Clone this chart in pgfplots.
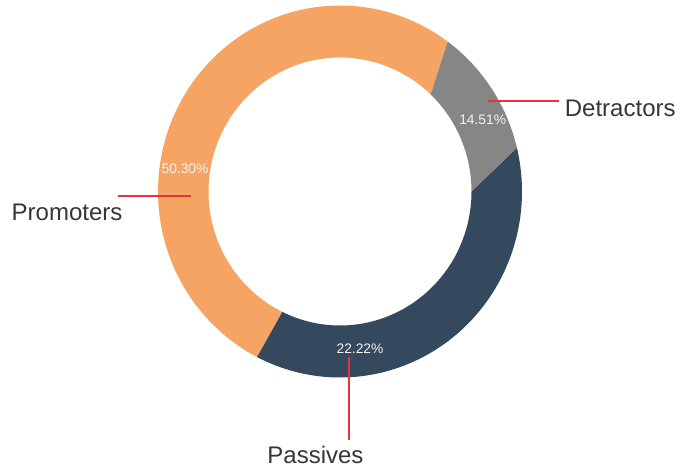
\documentclass[border=0pt]{standalone}
\usepackage{pgfplots}
\pgfplotsset{compat=1.18}
\usepackage{fontspec}
\setmainfont{Liberation Sans}
\definecolor{promo}{HTML}{F5A464}
\definecolor{detr}{HTML}{858685}
\definecolor{pass}{HTML}{34495E}
\definecolor{lead}{HTML}{E8323C}
\definecolor{txt}{HTML}{363636}
\definecolor{lbl}{HTML}{F2F2F2}
\begin{document}
\begin{tikzpicture}
\begin{axis}[scale only axis, width=681pt, height=468pt,
  xmin=0, xmax=681, ymin=0, ymax=468, y dir=reverse,
  hide axis, clip=false]
\path (rel axis cs:0,0) rectangle (rel axis cs:1,1);
% each slice: outer arc a1..a2 (t in 0..1), inner arc b2..b1 (t in 1+1/120..2)
% Promoters 50.30%: outer 53.7..242.9 deg, inner 46.4..244 deg
\addplot[draw=none, fill=promo, domain=0:2, samples=241, variable=\t]
 ({\t<=1.001 ? 340+182*cos(53.7+(242.9-53.7)*min(\t,1)) : 340+131.5*cos(244+(46.4-244)*max(0,(\t-1-1/120)*120/119))},
  {\t<=1.001 ? 191.5-186*sin(53.7+(242.9-53.7)*min(\t,1)) : 191.5-134*sin(244+(46.4-244)*max(0,(\t-1-1/120)*120/119))});
% Passives 22.22%: outer 242.9..373.6, inner 244..360
\addplot[draw=none, fill=pass, domain=0:2, samples=241, variable=\t]
 ({\t<=1.001 ? 340+182*cos(242.9+(373.6-242.9)*min(\t,1)) : 340+131.5*cos(360+(244-360)*max(0,(\t-1-1/120)*120/119))},
  {\t<=1.001 ? 191.5-186*sin(242.9+(373.6-242.9)*min(\t,1)) : 191.5-134*sin(360+(244-360)*max(0,(\t-1-1/120)*120/119))});
% Detractors 14.51%: outer 13.6..53.7, inner 0..46.4
\addplot[draw=none, fill=detr, domain=0:2, samples=241, variable=\t]
 ({\t<=1.001 ? 340+182*cos(13.6+(53.7-13.6)*min(\t,1)) : 340+131.5*cos(46.4+(0-46.4)*max(0,(\t-1-1/120)*120/119))},
  {\t<=1.001 ? 191.5-186*sin(13.6+(53.7-13.6)*min(\t,1)) : 191.5-134*sin(46.4+(0-46.4)*max(0,(\t-1-1/120)*120/119))});
% leader lines
\addplot[lead, line width=1.8pt] coordinates {(488.3,100.7) (559.3,100.7)};
\addplot[lead, line width=1.8pt] coordinates {(118.3,196) (190.7,196)};
\addplot[lead, line width=1.8pt] coordinates {(349.3,357.3) (349.3,440)};
% percentage labels
\node[anchor=base, inner sep=0, text=lbl, font=\fontsize{13.8}{16}\selectfont] at (axis cs:482.7,125) {14.51\%};
\node[anchor=base, inner sep=0, text=lbl, font=\fontsize{13.8}{16}\selectfont] at (axis cs:360,353.3) {22.22\%};
\node[anchor=base, inner sep=0, text=lbl, font=\fontsize{13.8}{16}\selectfont] at (axis cs:185,174) {50.30\%};
% category labels
\node[anchor=base west, inner sep=0, text=txt, font=\fontsize{24}{28}\selectfont] at (axis cs:564.7,116.7) {Detractors};
\node[anchor=base west, inner sep=0, text=txt, font=\fontsize{24}{28}\selectfont] at (axis cs:11.5,221) {Promoters};
\node[anchor=base west, inner sep=0, text=txt, font=\fontsize{24}{28}\selectfont] at (axis cs:267.2,463.3) {Passives};
\end{axis}
\end{tikzpicture}
\end{document}
